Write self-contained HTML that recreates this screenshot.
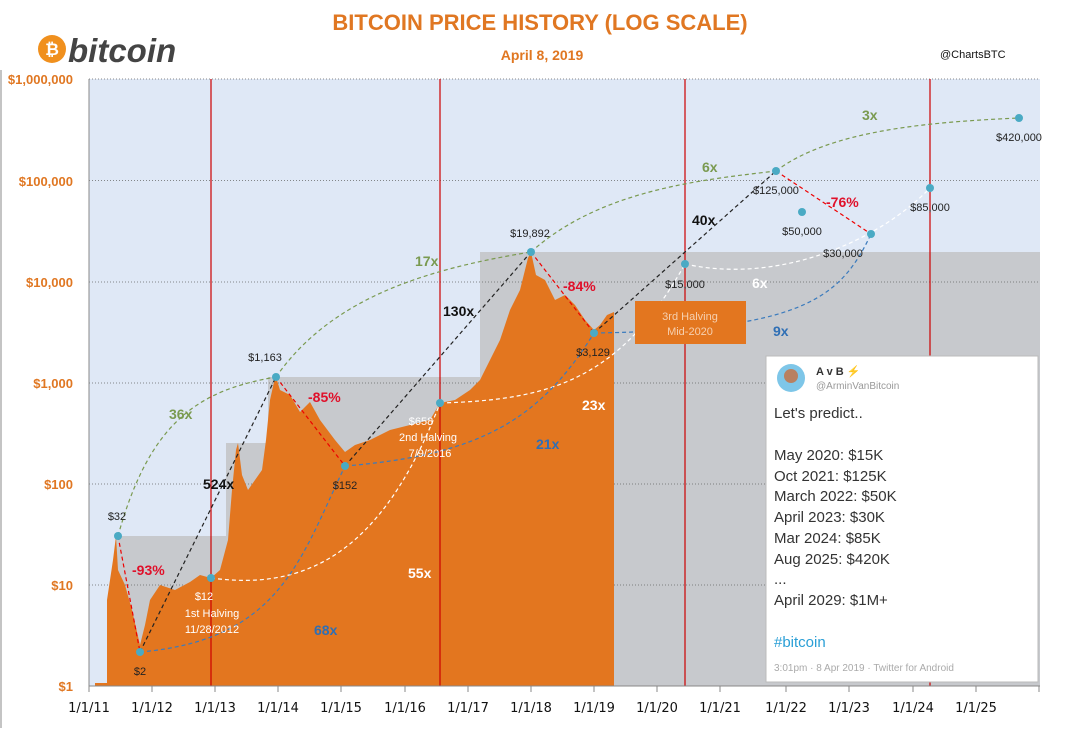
<!DOCTYPE html>
<html><head><meta charset="utf-8"><style>
body{margin:0;background:#fff;width:1065px;height:728px;overflow:hidden;font-family:"Liberation Sans",sans-serif}
</style></head><body>
<svg width="1065" height="728" viewBox="0 0 1065 728" xmlns="http://www.w3.org/2000/svg" font-family="Liberation Sans, sans-serif">
<!-- plot bg -->
<rect x="89" y="79" width="951" height="607" fill="#dfe8f6"/>
<!-- gray envelope -->
<polygon fill="#c7c9cd" points="116,686 116,536 226,536 226,443 268,443 268,377 480,377 480,252 1040,252 1040,686"/>
<!-- grid -->
<g stroke="#666" stroke-dasharray="1,2" stroke-width="0.8">
<line x1="89" y1="79" x2="1040" y2="79"/><line x1="89" y1="180.5" x2="1040" y2="180.5"/>
<line x1="89" y1="282" x2="1040" y2="282"/><line x1="89" y1="383" x2="1040" y2="383"/>
<line x1="89" y1="484" x2="1040" y2="484"/><line x1="89" y1="585" x2="1040" y2="585"/>
</g>
<!-- price -->
<polygon fill="#e3761f" points="95,686 95,683 107,683 107,600 113,560 116,536 118,570 125,585 132,610 140,645 145,625 150,600 160,585 175,590 190,582 200,575 211,578 220,570 228,540 232,490 236,450 238,443 242,475 248,490 255,480 262,470 266,440 270,400 274,382 276,377 280,390 290,395 300,412 310,402 320,420 335,440 345,452 355,445 370,440 390,430 410,425 430,420 440,403 455,400 470,390 480,380 490,360 500,340 510,310 520,290 528,258 531,252 536,275 545,280 555,300 565,295 575,305 585,320 594,330 600,325 607,315 614,312 614,686"/>
<!-- halving lines -->
<g stroke="#c00" stroke-width="1.2">
<line x1="211" y1="79" x2="211" y2="686"/><line x1="440" y1="79" x2="440" y2="686"/>
<line x1="685" y1="79" x2="685" y2="686"/><line x1="930" y1="79" x2="930" y2="686"/>
</g>
<!-- axes -->
<line x1="89" y1="79" x2="89" y2="686" stroke="#888"/>
<line x1="89" y1="686" x2="1040" y2="686" stroke="#888"/>
<g stroke="#888">
<line x1="89" y1="686" x2="89" y2="692"/><line x1="152" y1="686" x2="152" y2="692"/><line x1="215" y1="686" x2="215" y2="692"/><line x1="278" y1="686" x2="278" y2="692"/><line x1="341" y1="686" x2="341" y2="692"/><line x1="405" y1="686" x2="405" y2="692"/><line x1="468" y1="686" x2="468" y2="692"/><line x1="531" y1="686" x2="531" y2="692"/><line x1="594" y1="686" x2="594" y2="692"/><line x1="657" y1="686" x2="657" y2="692"/><line x1="720" y1="686" x2="720" y2="692"/><line x1="786" y1="686" x2="786" y2="692"/><line x1="849" y1="686" x2="849" y2="692"/><line x1="913" y1="686" x2="913" y2="692"/><line x1="976" y1="686" x2="976" y2="692"/><line x1="1039" y1="686" x2="1039" y2="692"/>
</g>
<!-- dashed curves -->
<g fill="none" stroke-width="1.2" stroke-dasharray="4,3">
<path stroke="#7a9a50" d="M118,536 C150,420 200,390 276,377 M276,377 C330,300 420,270 531,252 M531,252 C600,190 700,180 776,171 M776,171 C830,130 930,122 1019,118"/>
<path stroke="#222" d="M140,652 L276,377 M345,466 L531,252 M594,333 L776,171"/>
<path stroke="#e00" d="M118,536 L140,652 M276,377 L345,466 M531,252 L594,333 M776,171 L871,234"/>
<path stroke="#fff" d="M211,578 C300,590 380,560 440,403 M440,403 C550,400 620,380 685,264 M685,264 C780,285 880,240 930,188"/>
<path stroke="#3b7bbd" d="M140,652 C280,640 300,560 345,466 M345,466 C480,455 540,420 594,333 M594,333 C800,330 840,300 871,234"/>
</g>
<!-- dots -->
<g fill="#4aaac4">
<circle cx="118" cy="536" r="4"/><circle cx="140" cy="652" r="4"/><circle cx="211" cy="578" r="4"/><circle cx="276" cy="377" r="4"/><circle cx="345" cy="466" r="4"/><circle cx="440" cy="403" r="4"/><circle cx="531" cy="252" r="4"/><circle cx="594" cy="333" r="4"/><circle cx="685" cy="264" r="4"/><circle cx="776" cy="171" r="4"/><circle cx="802" cy="212" r="4"/><circle cx="871" cy="234" r="4"/><circle cx="930" cy="188" r="4"/><circle cx="1019" cy="118" r="4"/>
</g>
<!-- orange box -->
<rect x="635" y="301" width="111" height="43" fill="#e3761f"/>
<text x="690" y="320" font-size="11" fill="#f6d0b0" text-anchor="middle">3rd Halving</text>
<text x="690" y="335" font-size="11" fill="#f6d0b0" text-anchor="middle">Mid-2020</text>
<!-- point labels -->
<g font-size="11" fill="#222" text-anchor="middle">
<text x="117" y="520">$32</text><text x="140" y="675">$2</text><text x="265" y="361">$1,163</text><text x="345" y="489">$152</text><text x="530" y="237">$19,892</text><text x="593" y="356">$3,129</text><text x="685" y="288">$15,000</text><text x="776" y="194">$125,000</text><text x="802" y="235">$50,000</text><text x="843" y="257">$30,000</text><text x="930" y="211">$85,000</text><text x="1019" y="141">$420,000</text>
</g>
<g font-size="11" fill="#fff" text-anchor="middle">
<text x="204" y="600">$12</text><text x="212" y="617">1st Halving</text><text x="212" y="633">11/28/2012</text>
<text x="421" y="425">$658</text><text x="428" y="441">2nd Halving</text><text x="430" y="457">7/9/2016</text>
</g>
<!-- multipliers -->
<g font-size="14" font-weight="bold">
<text x="169" y="419" fill="#7a9a50">36x</text><text x="415" y="266" fill="#7a9a50">17x</text><text x="702" y="172" fill="#7a9a50">6x</text><text x="862" y="120" fill="#7a9a50">3x</text>
<text x="203" y="489" fill="#111">524x</text><text x="443" y="316" fill="#111">130x</text><text x="692" y="225" fill="#111">40x</text>
<text x="132" y="575" fill="#e0102a">-93%</text><text x="308" y="402" fill="#e0102a">-85%</text><text x="563" y="291" fill="#e0102a">-84%</text><text x="826" y="207" fill="#e0102a">-76%</text>
<text x="408" y="578" fill="#fff">55x</text><text x="582" y="410" fill="#fff">23x</text><text x="752" y="288" fill="#fff">6x</text>
<text x="314" y="635" fill="#2f6fb5">68x</text><text x="536" y="449" fill="#2f6fb5">21x</text><text x="773" y="336" fill="#2f6fb5">9x</text>
</g>
<!-- y labels -->
<g font-size="13" font-weight="bold" fill="#e07722" text-anchor="end">
<text x="73" y="84">$1,000,000</text><text x="73" y="186">$100,000</text><text x="73" y="287">$10,000</text><text x="73" y="388">$1,000</text><text x="73" y="489">$100</text><text x="73" y="590">$10</text><text x="73" y="691">$1</text>
</g>
<line x1="1" y1="70" x2="1" y2="728" stroke="#888"/>
<!-- x labels -->
<g font-size="13" fill="#111" text-anchor="middle" font-family="DejaVu Sans, sans-serif">
<text x="89" y="712">1/1/11</text><text x="152" y="712">1/1/12</text><text x="215" y="712">1/1/13</text><text x="278" y="712">1/1/14</text><text x="341" y="712">1/1/15</text><text x="405" y="712">1/1/16</text><text x="468" y="712">1/1/17</text><text x="531" y="712">1/1/18</text><text x="594" y="712">1/1/19</text><text x="657" y="712">1/1/20</text><text x="720" y="712">1/1/21</text><text x="786" y="712">1/1/22</text><text x="849" y="712">1/1/23</text><text x="913" y="712">1/1/24</text><text x="976" y="712">1/1/25</text>
</g>
<!-- title -->
<text x="540" y="30" font-size="22" font-weight="bold" fill="#e07722" text-anchor="middle">BITCOIN PRICE HISTORY (LOG SCALE)</text>
<text x="542" y="60" font-size="14" font-weight="bold" fill="#e07722" text-anchor="middle">April 8, 2019</text>
<text x="940" y="58" font-size="11" fill="#111">@ChartsBTC</text>
<!-- logo -->
<circle cx="52" cy="49" r="14" fill="#f0901e"/>
<text x="52" y="55" font-size="17" font-weight="bold" fill="#fff" text-anchor="middle">₿</text>
<text x="68" y="62" font-size="33" font-weight="bold" font-style="italic" fill="#444">bitcoin</text>
<!-- tweet -->
<rect x="766" y="356" width="272" height="326" fill="#fff" stroke="#bbb"/>
<circle cx="791" cy="378" r="14" fill="#7ec6e8"/>
<circle cx="791" cy="376" r="7" fill="#b88060"/>
<text x="816" y="375" font-size="11" font-weight="bold" fill="#333">A v B <tspan fill="#f5b800">⚡</tspan></text>
<text x="816" y="389" font-size="10" fill="#999">@ArminVanBitcoin</text>
<g font-size="15" fill="#333">
<text x="774" y="418">Let's predict..</text>
<text x="774" y="460">May 2020: $15K</text><text x="774" y="481">Oct 2021: $125K</text><text x="774" y="501">March 2022: $50K</text><text x="774" y="522">April 2023: $30K</text><text x="774" y="543">Mar 2024: $85K</text><text x="774" y="564">Aug 2025: $420K</text><text x="774" y="584">...</text><text x="774" y="605">April 2029: $1M+</text>
<text x="774" y="647" fill="#2a9fd6">#bitcoin</text>
</g>
<text x="774" y="671" font-size="10" fill="#aaa">3:01pm · 8 Apr 2019 · Twitter for Android</text>
</svg>
</body></html>
